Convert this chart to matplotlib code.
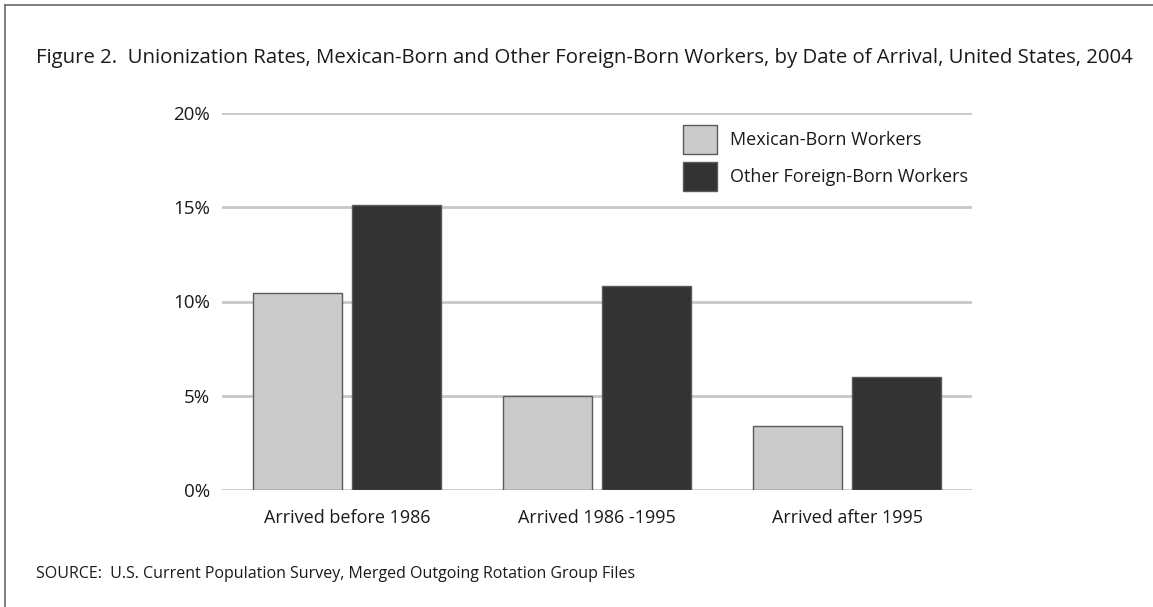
import numpy as np
import matplotlib.pyplot as plt
from matplotlib.lines import Line2D

# data
categories = ["Arrived before 1986", "Arrived 1986 -1995", "Arrived after 1995"]
mexican_born = [10.45, 5.0, 3.4]
other_foreign_born = [15.1, 10.8, 6.0]
series_names = ["Mexican-Born Workers", "Other Foreign-Born Workers"]
y_ticks = [0, 5, 10, 15, 20]
y_tick_labels = ["0%", "5%", "10%", "15%", "20%"]

plt.rcParams['font.family'] = ['Open Sans', 'DejaVu Sans']

W, H = 1153, 607
fig = plt.figure(figsize=(W / 100, H / 100), dpi=100)
fig.patch.set_facecolor('white')

ax = fig.add_axes([222 / W, 1 - 490 / H, (972 - 222) / W, (490 - 113) / H])

x = np.arange(len(categories))
width = 0.357
off = 0.198
ax.bar(x - off, mexican_born, width, color='#cbcbcb', edgecolor='#5a5a5a',
       linewidth=1.0, label=series_names[0], zorder=3)
ax.bar(x + off, other_foreign_born, width, color='#333333', edgecolor='#5a5a5a',
       linewidth=1.0, label=series_names[1], zorder=3)

ax.set_xlim(-0.5, 2.5)
ax.set_ylim(0, 20)
ax.set_yticks(y_ticks)
ax.set_yticklabels(y_tick_labels, fontsize=13.5, color='#1a1a1a')
ax.set_xticks(x)
ax.set_xticklabels(categories, fontsize=13, color='#1a1a1a')
ax.tick_params(axis='y', length=0, pad=8.5)
ax.tick_params(axis='x', length=0, pad=14)
for s in ax.spines.values():
    s.set_visible(False)
ax.grid(axis='y', color='#c8c8c8', linewidth=2.0, zorder=0)
ax.set_axisbelow(True)

leg = ax.legend(loc='upper left', bbox_to_anchor=((670 - 222) / 750, 1 - (112 - 113) / 377),
                frameon=False, fontsize=13, handlelength=1.9, handleheight=2.09,
                labelspacing=0.45, handletextpad=0.7, borderpad=0.2)
for t in leg.get_texts():
    t.set_color('#1a1a1a')

fig.text(36 / W, 1 - 58 / H,
         "Figure 2.  Unionization Rates, Mexican-Born and Other Foreign-Born Workers, by Date of Arrival, United States, 2004",
         fontsize=14.7, color='#1a1a1a', va='center', ha='left')
fig.text(36 / W, 1 - 574 / H,
         "SOURCE:  U.S. Current Population Survey, Merged Outgoing Rotation Group Files",
         fontsize=11.5, color='#1a1a1a', va='center', ha='left')

# frame lines (top and left only visible)
fig.add_artist(Line2D([5 / W, 1], [1 - 5 / H, 1 - 5 / H], color='#6a6a6a', linewidth=1.2))
fig.add_artist(Line2D([5 / W, 5 / W], [0, 1 - 5 / H], color='#6a6a6a', linewidth=1.2))

fig.savefig('out.png', dpi=100)
